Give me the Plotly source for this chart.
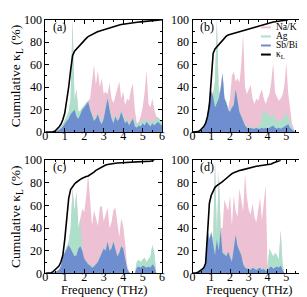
import plotly.graph_objects as go
from plotly.subplots import make_subplots

# Frequency grid (THz)
freq = [round(0.1 * i, 1) for i in range(61)]

# ---------- panel (a) ----------
a_sbbi = [0, 0, 0, 0, 0.2, 0.5, 1, 2, 3, 5,
          8, 10, 12, 16, 18, 20, 14, 12, 16, 20,
          22, 24, 27, 20, 14, 10, 12, 16, 10, 7,
          12, 22, 30, 20, 12, 8, 14, 10, 12, 18,
          12, 8, 10, 6, 9, 12, 5, 4, 6, 5,
          8, 6, 9, 7, 5, 8, 6, 8, 9, 7, 6]
a_ag = [0, 0, 0, 0, 0.3, 0.8, 1.5, 3, 4.5, 7,
        11, 14, 18, 30, 100, 28, 38, 18, 19, 22,
        24, 25, 28, 22, 16, 12, 14, 18, 12, 9,
        14, 24, 32, 22, 14, 10, 16, 12, 14, 20,
        14, 10, 12, 8, 11, 14, 8, 7, 9, 8,
        11, 9, 12, 10, 8, 11, 9, 12, 13, 11, 10]
a_nak = [0, 0, 0, 0, 0.3, 0.8, 1.5, 3, 4.5, 7,
         11, 14, 18, 30, 100, 28, 38, 18, 19, 22,
         24, 25, 28, 30, 45, 60, 42, 55, 40, 48,
         34, 36, 34, 44, 30, 26, 32, 38, 45, 30,
         36, 24, 30, 28, 38, 43, 20, 8, 9, 14,
         22, 35, 55, 25, 22, 30, 20, 14, 13, 11, 10]
a_kl = [0, 0, 0, 0, 0.3, 1, 2.5, 4.5, 7, 11,
        17, 27, 40, 55, 68, 72, 74, 76, 78, 80,
        82, 83.5, 85, 86, 87, 88, 88.8, 89.5, 90, 90.6,
        91.2, 91.8, 92.4, 93, 93.5, 94, 94.5, 95, 95.4, 95.8,
        96.1, 96.4, 96.7, 97, 97.2, 97.4, 97.6, 97.8, 98, 98.2,
        98.4, 98.6, 98.8, 99, 99.2, 99.4, 99.6, 99.8, 99.9, 100, 100]

# ---------- panel (b) ----------
b_sbbi = [0, 0, 0, 0.5, 1, 2, 4, 7, 13, 30,
          36, 32, 22, 26, 30, 38, 52, 30, 26, 20,
          18, 22, 24, 38, 28, 18, 14, 10, 6, 4,
          3, 4, 3, 3, 4, 3, 3, 4, 3, 4,
          3, 4, 5, 6, 4, 3, 4, 3, 4, 5,
          6, 7, 4, 2, 1, 0, 0, 0, 0, 0, 0]
b_ag = [0, 0, 0, 0.6, 1.2, 2.5, 4.5, 8, 14, 31,
        37, 34, 45, 100, 33, 40, 53, 31, 27, 21,
        19, 23, 25, 39, 29, 19, 15, 11, 7, 5,
        4, 5, 4, 4, 5, 5, 6, 15, 18, 20,
        16, 14, 15, 16, 12, 10, 9, 10, 12, 15,
        17, 14, 8, 4, 2, 0, 0, 0, 0, 0, 0]
b_nak = [0, 0, 0, 0.6, 1.2, 2.5, 4.5, 8, 14, 31,
         37, 34, 45, 100, 33, 40, 53, 31, 27, 21,
         30, 50, 54, 45, 48, 44, 60, 87, 40, 34,
         38, 42, 30, 25, 30, 28, 34, 38, 30, 25,
         30, 34, 45, 62, 35, 31, 28, 30, 33, 42,
         62, 35, 20, 8, 3, 0, 0, 0, 0, 0, 0]
b_kl = [0, 0, 0, 0.5, 1.5, 3, 5, 8, 14, 24,
        45, 70, 74, 76, 77, 79, 82, 84, 85.5, 86.5,
        87, 87.5, 88, 88.5, 89, 89.5, 90, 90.5, 91, 91.5,
        92, 92.5, 93, 93.5, 94, 94.5, 95, 95.5, 96, 96.4,
        96.8, 97.2, 97.6, 98, 98.3, 98.6, 98.9, 99.2, 99.5, 99.7,
        99.9, 100, None, None, None, None, None, None, None, None, None]

# ---------- panel (c) ----------
c_sbbi = [0, 0, 0, 0, 0.5, 1, 2, 3, 6, 14,
          18, 22, 25, 22, 18, 15, 16, 22, 24, 20,
          13, 10, 8, 7, 5, 6, 8, 10, 14, 18,
          22, 20, 28, 20, 22, 28, 20, 15, 18, 24,
          22, 12, 4, 1, 0, 0, 0, 5, 6, 5,
          7, 6, 5, 6, 5, 8, 6, 0, 0, 0, 0]
c_ag = [0, 0, 0, 0, 0.6, 1.2, 2.5, 3.5, 7, 15,
        19, 23, 28, 40, 75, 55, 72, 40, 48, 22,
        14, 11, 9, 8, 6, 7, 9, 11, 15, 19,
        23, 21, 29, 21, 23, 29, 21, 16, 19, 25,
        23, 13, 5, 1.5, 0, 0, 0, 10, 12, 10,
        12, 14, 10, 12, 15, 25, 18, 0, 0, 0, 0]
c_nak = [0, 0, 0, 0, 0.6, 1.2, 2.5, 3.5, 7, 15,
         19, 23, 28, 40, 75, 55, 72, 40, 50, 57,
         54, 68, 88, 60, 42, 56, 50, 42, 58, 60,
         46, 52, 58, 40, 45, 56, 58, 45, 32, 49,
         42, 27, 8, 1.5, 0, 0, 0, 10, 12, 10,
         12, 14, 10, 12, 15, 25, 18, 0, 0, 0, 0]
c_kl = [0, 0, 0, 0.5, 1.5, 3, 4.5, 6.5, 10, 16,
        30, 50, 66, 74, 77, 79, 80.5, 82, 83, 84,
        85, 85.5, 86, 87, 88, 89.5, 91, 92, 93, 94,
        95, 95.7, 96.2, 96.6, 96.9, 97.1, 97.3, 97.5, 97.6, 97.7,
        97.8, 97.8, 97.8, 97.8, 97.8, 97.9, 97.9, 98, 98.1, 98.2,
        98.3, 98.4, 98.6, 98.8, 99.2, 99.6, 100, None, None, None, None]

# ---------- panel (d) ----------
d_sbbi = [0, 0, 0.3, 0.8, 1.5, 3, 5, 10, 38, 30,
          36, 26, 16, 30, 20, 38, 18, 17, 15, 19,
          14, 10, 22, 34, 24, 20, 16, 8, 5, 4,
          4, 3, 5, 4, 3, 4, 5, 3, 4, 2,
          3, 5, 6, 4, 5, 6, 5, 7, 3, 0,
          0, 0, 0, 0, 0, 0, 0, 0, 0, 0, 0]
d_ag = [0, 0, 0.3, 0.8, 1.5, 3, 5, 10, 39, 31,
        37, 30, 100, 32, 90, 40, 20, 18, 16, 20,
        15, 11, 23, 35, 25, 21, 17, 9, 6, 5,
        5, 4, 6, 5, 4, 5, 6, 4, 5, 3,
        5, 22, 18, 15, 18, 16, 12, 38, 8, 0,
        0, 0, 0, 0, 0, 0, 0, 0, 0, 0, 0]
d_nak = [0, 0, 0.3, 0.8, 1.5, 3, 5, 10, 39, 31,
         37, 30, 100, 32, 90, 40, 40, 65, 60, 55,
         69, 42, 69, 55, 50, 75, 65, 55, 88, 67,
         56, 52, 62, 50, 45, 55, 67, 47, 60, 78,
         5, 22, 18, 15, 18, 16, 12, 38, 8, 0,
         0, 0, 0, 0, 0, 0, 0, 0, 0, 0, 0]
d_kl = [0, 0, 0.5, 1, 2, 3.5, 5, 9, 35, 62,
        69, 73, 76, 77.5, 78.5, 80, 81, 82.5, 84, 85.5,
        87, 88, 89, 89.8, 90.3, 90.8, 91.2, 91.7, 92.2, 92.7,
        93.2, 93.6, 94, 94.3, 94.6, 94.9, 95.1, 95.3, 95.5, 95.7,
        95.9, 96.1, 96.6, 97.5, 98.3, 99, 99.5, 100, None, None,
        None, None, None, None, None, None, None, None, None, None, None]

panel_labels = ["(a)", "(b)", "(c)", "(d)"]
legend_names = ["Na/K", "Ag", "Sb/Bi", "κ<sub>L</sub>"]
x_ticks = [0, 1, 2, 3, 4, 5, 6]
y_ticks = [0, 20, 40, 60, 80, 100]

PINK = "#EEC0D3"
GREEN = "#ADE0CA"
BLUE = "#6E8ECF"
FONT = "Liberation Serif, Times New Roman, serif"

panels = [
    (1, 1, a_nak, a_ag, a_sbbi, a_kl),
    (1, 2, b_nak, b_ag, b_sbbi, b_kl),
    (2, 1, c_nak, c_ag, c_sbbi, c_kl),
    (2, 2, d_nak, d_ag, d_sbbi, d_kl),
]

fig = make_subplots(rows=2, cols=2)

for r, c, nak, ag, sb, kl in panels:
    for vals, col in ((nak, PINK), (ag, GREEN), (sb, BLUE)):
        fig.add_trace(go.Scatter(x=freq, y=vals, mode="lines", fill="tozeroy",
                                 fillcolor=col, line=dict(width=0, color=col),
                                 showlegend=False, hoverinfo="skip"), row=r, col=c)
    fig.add_trace(go.Scatter(x=freq, y=kl, mode="lines",
                             line=dict(color="black", width=1.6),
                             showlegend=False, connectgaps=False), row=r, col=c)

axis_common = dict(
    showline=True, linecolor="black", linewidth=1, mirror="allticks",
    ticks="inside", ticklen=4, tickcolor="black", tickwidth=1,
    showgrid=False, zeroline=False,
    tickfont=dict(family=FONT, size=12, color="black"),
)

xdom = {1: [0.114, 0.502], 2: [0.603, 0.977]}
ydom = {1: [0.586, 0.983], 2: [0.087, 0.487]}

for r in (1, 2):
    for c in (1, 2):
        fig.update_xaxes(range=[0, 6], tickvals=x_ticks, domain=xdom[c],
                         minor=dict(ticks="inside", dtick=0.5, ticklen=2, tickcolor="black"),
                         row=r, col=c, **axis_common)
        fig.update_yaxes(range=[0, 100], tickvals=y_ticks, domain=ydom[r],
                         minor=dict(ticks="inside", dtick=10, ticklen=2, tickcolor="black"),
                         row=r, col=c, **axis_common)

try:
    fig.update_xaxes(ticklabelstandoff=-8)
except Exception:
    pass
try:
    fig.update_xaxes(ticklabeloverflow="allow")
except Exception:
    pass

title_font = dict(family=FONT, size=12.5, color="black")
for r in (1, 2):
    fig.update_yaxes(title=dict(text="Cumulative κ<sub>L</sub> (%)",
                                font=dict(family=FONT, size=13.5, color="black"), standoff=2),
                     row=r, col=1)

# x-axis titles (bottom row)
for c in (1, 2):
    xc = (xdom[c][0] + xdom[c][1]) / 2
    fig.add_annotation(text="Frequency (THz)", x=xc, y=1 - 288.6 / 297,
                       xref="paper", yref="paper", xanchor="center", yanchor="middle",
                       showarrow=False, font=title_font)

# panel labels
axis_names = ["", "2", "3", "4"]
for lab, an in zip(panel_labels, axis_names):
    fig.add_annotation(text=lab, x=0.3, y=94, xref="x" + an, yref="y" + an,
                       xanchor="left", yanchor="middle", showarrow=False,
                       font=dict(family=FONT, size=12, color="black"))

# legend (inside panel b)
leg_cols = [PINK, GREEN, BLUE, "black"]
leg_y = [13, 22.5, 32, 41.5]
for name, col, py in zip(legend_names, leg_cols, leg_y):
    yp = 1 - py / 297
    fig.add_shape(type="line", xref="paper", yref="paper",
                  x0=255 / 307, x1=265 / 307, y0=yp, y1=yp,
                  line=dict(color=col, width=2))
    fig.add_annotation(text=name, x=268 / 307, y=yp, xref="paper", yref="paper",
                       xanchor="left", yanchor="middle", showarrow=False,
                       font=dict(family=FONT, size=9.5, color="black"))

fig.update_layout(
    width=307, height=297,
    margin=dict(l=0, r=0, t=0, b=0),
    paper_bgcolor="white", plot_bgcolor="white",
    showlegend=False,
)

fig.write_html("out.html")
